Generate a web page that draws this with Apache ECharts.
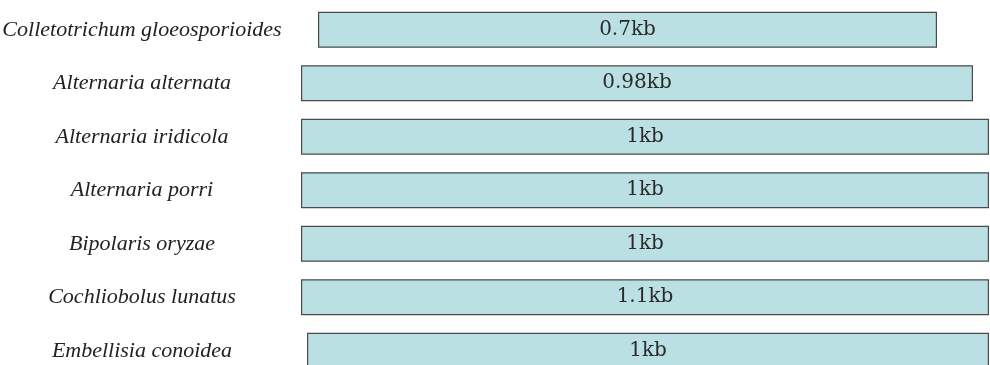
<!DOCTYPE html>
<html>
<head>
<meta charset="utf-8">
<script src="https://cdn.jsdelivr.net/npm/echarts@6/dist/echarts.min.js"></script>
<style>
html,body{margin:0;padding:0;background:#fff;}
#c{width:990px;height:365px;}
</style>
</head>
<body>
<div id="c"></div>
<script>
// Species (top to bottom)
var species = [
  'Colletotrichum gloeosporioides',
  'Alternaria alternata',
  'Alternaria iridicola',
  'Alternaria porri',
  'Bipolaris oryzae',
  'Cochliobolus lunatus',
  'Embellisia conoidea'
];
// Amplicon size labels
var sizeLabels = ['0.7kb', '0.98kb', '1kb', '1kb', '1kb', '1.1kb', '1kb'];
// Band extent on the schematic scale (start, end)
var bandStart = [38, 21, 21, 21, 21, 21, 27];
var bandEnd   = [657, 693, 709, 709, 709, 709, 709];

var bandLength = bandEnd.map(function (e, i) { return e - bandStart[i]; });

var chart = echarts.init(document.getElementById('c'), null, {renderer: 'canvas'});
chart.setOption({
  animation: false,
  backgroundColor: '#ffffff',
  grid: {left: 280, right: 0, top: 3, height: 374.5, containLabel: false, outerBoundsMode: 'none'},
  xAxis: {
    type: 'value', min: 0, max: 710, show: false
  },
  yAxis: {
    type: 'category',
    inverse: true,
    data: species,
    axisLine: {show: false},
    axisTick: {show: false},
    splitLine: {show: false},
    axisLabel: {
      align: 'center',
      margin: 138,
      fontFamily: 'Liberation Serif',
      fontStyle: 'italic',
      fontSize: 22,
      color: '#222'
    }
  },
  series: [
    {
      type: 'bar', stack: 'band', data: bandStart, barWidth: 36,
      itemStyle: {color: 'rgba(0,0,0,0)'}, silent: true
    },
    {
      type: 'bar', stack: 'band', data: bandLength, barWidth: 36,
      itemStyle: {color: '#bbe0e3', borderColor: '#4a4a4a', borderWidth: 1.2},
      label: {
        show: true, position: 'inside',
        formatter: function (p) { return sizeLabels[p.dataIndex]; },
        fontFamily: 'DejaVu Serif', fontSize: 20, color: '#2a2a2a'
      }
    }
  ]
});
</script>
</body>
</html>
